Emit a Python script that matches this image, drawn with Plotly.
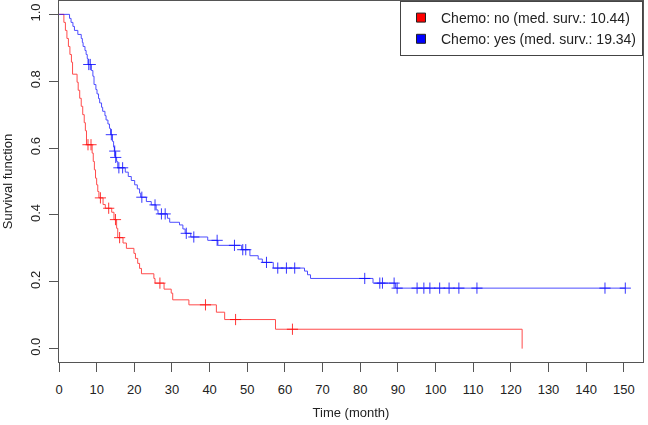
import numpy as np
import plotly.graph_objects as go

# ---- Data (Kaplan-Meier step curves) ----
# Chemo: no
no_times = [0, 1.3, 1.7, 2.1, 2.5, 2.9, 3.3, 3.6, 4.8, 5.1, 5.5, 5.9, 6.3, 6.7, 7.0, 7.3,
            8.8, 9.1, 9.4, 9.7, 10.0, 10.3, 10.6, 11.7, 12.3, 14.0, 14.6, 15.3, 15.6,
            17.0, 17.9, 19.9, 20.3, 20.9, 21.4, 21.9, 25.2, 25.5, 27.9, 29.8, 30.2,
            34.5, 41.8, 44.0, 57.5, 123.0]
no_surv = [1.0, 0.976, 0.952, 0.928, 0.904, 0.880, 0.857, 0.821, 0.797, 0.773, 0.749, 0.725,
           0.700, 0.676, 0.652, 0.610, 0.585, 0.560, 0.535, 0.510, 0.490, 0.470, 0.451,
           0.431, 0.420, 0.408, 0.386, 0.360, 0.332, 0.316, 0.300, 0.285, 0.270, 0.255,
           0.240, 0.224, 0.210, 0.196, 0.178, 0.166, 0.146, 0.131, 0.109, 0.087, 0.058, 0.0]
no_censor = [7.7, 8.5, 11.0, 13.2, 15.0, 16.1, 26.8, 38.9, 46.9, 62.0]

# Chemo: yes
yes_times = [0, 2.8, 3.2, 3.7, 4.1, 5.0, 5.9, 6.2, 6.4, 6.9, 7.2, 7.5, 7.7, 8.6, 9.0, 9.3,
             9.8, 10.1, 10.5, 10.8, 11.3, 11.6, 12.2, 12.5, 13.0, 13.4, 13.7, 14.2, 14.5,
             14.7, 14.95, 15.3, 15.6, 17.6, 18.4, 19.2, 20.1, 20.8, 21.4, 21.7, 23.2, 24.5,
             25.8, 26.3, 28.8, 29.4, 32.0, 32.9, 33.5, 35.0, 39.5, 42.2, 48.5, 50.7, 52.9,
             54.0, 56.9, 65.2, 66.0, 66.8, 83.4, 89.4, 150.4]
yes_surv = [1.0, 0.988, 0.976, 0.964, 0.952, 0.940, 0.928, 0.916, 0.904, 0.892, 0.880, 0.868,
            0.850, 0.832, 0.815, 0.790, 0.775, 0.762, 0.748, 0.735, 0.722, 0.710, 0.697,
            0.684, 0.672, 0.659, 0.640, 0.620, 0.603, 0.591, 0.572, 0.560, 0.541, 0.528,
            0.515, 0.503, 0.490, 0.478, 0.465, 0.453, 0.440, 0.430, 0.415, 0.403, 0.390,
            0.378, 0.370, 0.358, 0.345, 0.334, 0.324, 0.309, 0.296, 0.278, 0.268, 0.258,
            0.241, 0.232, 0.221, 0.210, 0.196, 0.181, 0.181]
yes_censor = [7.9, 8.3, 13.9, 14.8, 15.07, 15.9, 16.9, 22.0, 25.5, 27.2, 28.2, 33.8, 35.8,
              42.0, 46.6, 48.8, 49.6, 55.1, 58.1, 60.4, 62.6, 81.2, 85.2, 85.9, 89.0, 89.8,
              95.1, 96.9, 98.5, 101.1, 103.6, 106.2, 111.0, 145.0, 150.4]

labels = ["Chemo: no (med. surv.: 10.44)", "Chemo: yes (med. surv.: 19.34)"]
x_ticks = list(range(0, 151, 10))
y_ticks = [0.0, 0.2, 0.4, 0.6, 0.8, 1.0]


def surv_at(times, surv, t):
    idx = np.searchsorted(np.array(times), np.array(t), side="right") - 1
    return np.array(surv)[idx]


FONT = "Arial, Liberation Sans, sans-serif"
fig = go.Figure()

groups = [
    (no_times, no_surv, no_censor, "#ff0000", labels[0]),
    (yes_times, yes_surv, yes_censor, "#0000ff", labels[1]),
]
for times, surv, cens, col, lab in groups:
    fig.add_trace(go.Scatter(x=times, y=surv, mode="lines",
                             line=dict(color=col, width=1, shape="hv"),
                             opacity=0.7, showlegend=False, hoverinfo="skip"))
    fig.add_trace(go.Scatter(x=cens, y=surv_at(times, surv, cens), mode="markers",
                             marker=dict(symbol="cross-thin", size=8,
                                         line=dict(color=col, width=1)),
                             opacity=0.8, showlegend=False, hoverinfo="skip"))

for times, surv, cens, col, lab in groups:
    fig.add_trace(go.Scatter(x=[None], y=[None], mode="markers", name=lab,
                             marker=dict(symbol="square", size=9, color=col,
                                         line=dict(color="#222222", width=1))))

fig.update_layout(
    width=648, height=425,
    margin=dict(l=59, r=5, t=1, b=63),
    paper_bgcolor="white", plot_bgcolor="white",
    font=dict(family=FONT, size=13, color="#222222"),
    showlegend=True,
    legend=dict(x=1, y=1, xanchor="right", yanchor="top",
                bordercolor="#444444", borderwidth=1, bgcolor="white",
                font=dict(family=FONT, size=14, color="#222222"),
                tracegroupgap=0),
    xaxis=dict(range=[0, 155.1], tickvals=x_ticks, ticktext=[str(v) for v in x_ticks],
               automargin=False, ticklabelstandoff=6,
               showgrid=False, zeroline=False, showline=True, linecolor="#555555",
               linewidth=1, mirror=True, ticks="outside", ticklen=9, tickcolor="#555555",
               title=dict(text="Time (month)", font=dict(size=13), standoff=12)),
    yaxis=dict(range=[-0.04, 1.04], tickvals=y_ticks, ticktext=[f"{v:.1f}" for v in y_ticks],
               tickangle=-90, automargin=False, ticklabelstandoff=4,
               showgrid=False, zeroline=False, showline=True, linecolor="#555555",
               linewidth=1, mirror=True, ticks="outside", ticklen=9, tickcolor="#555555",
               title=dict(text="Survival function", font=dict(size=13), standoff=12)),
)

fig.write_html("out.html", config={"displayModeBar": False},
               post_script="document.body.style.margin='0';")
